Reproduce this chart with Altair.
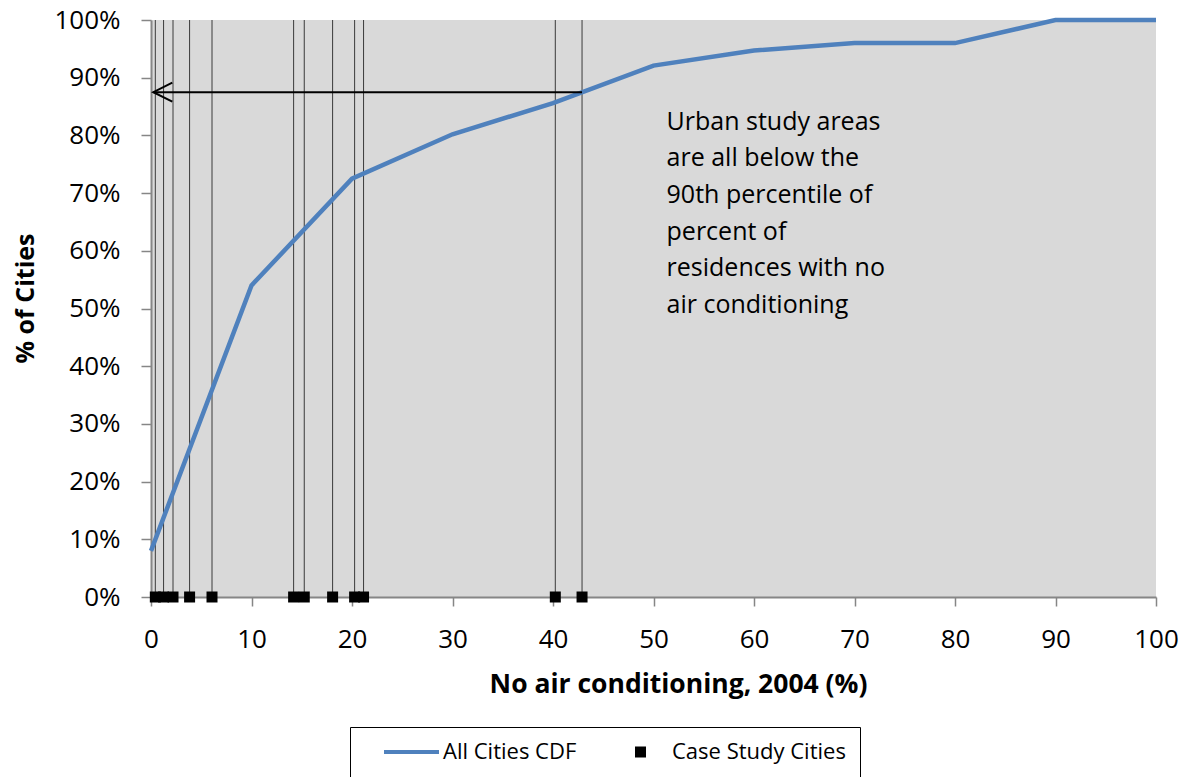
import altair as alt
import pandas as pd

# Cumulative distribution of residences without air conditioning, all cities
cdf_x = [0, 10, 20, 30, 40, 50, 60, 70, 80, 90, 100]
cdf_pct = [8.0, 54.0, 72.5, 80.2, 85.6, 92.1, 94.7, 96.0, 96.0, 100.0, 100.0]

# Case study cities (percent of residences with no air conditioning, 2004)
case_x = [0.43, 1.25, 2.19, 3.84, 6.07, 14.19, 15.25, 18.07, 20.26, 21.15, 40.23, 42.89]

# Arrow from the highest case study city back to the y axis
arrow_from = 42.89
arrow_to = 0.23
arrow_pct = 87.5

note_lines = [
    "Urban study areas",
    "are all below the",
    "90th percentile of",
    "percent of",
    "residences with no",
    "air conditioning",
]
note_x = 51.3
note_pct = 81.0

series = ["All Cities CDF", "Case Study Cities"]
x_ticks = list(range(0, 101, 10))
y_ticks = list(range(0, 101, 10))

FONT = "Open Sans"
BLUE = "#4f81bd"

cdf_df = pd.DataFrame({"x": cdf_x, "pct": cdf_pct})
case_df = pd.DataFrame({
    "x": case_x,
    "pct": [0] * len(case_x),
    "top": [100] * len(case_x),
    "series": [series[1]] * len(case_x),
})
arrow_df = pd.DataFrame({"x": [arrow_from], "x2": [arrow_to], "pct": [arrow_pct]})
head_df = pd.DataFrame({"x": [arrow_to], "pct": [arrow_pct]})
note_df = pd.DataFrame({"x": [note_x], "pct": [note_pct], "text": [note_lines]})

xs = alt.Scale(domain=[0, 100], nice=False, zero=False)
ys = alt.Scale(domain=[0, 100], nice=False, zero=False)

x_axis = alt.Axis(
    values=x_ticks, title="No air conditioning, 2004 (%)",
    labelFontSize=26, labelPadding=20, tickSize=9, labelFlush=False,
    titleFontSize=26.5, titleFontWeight="bold",
    titleX=527, titleY=95, titleAlign="center", titleBaseline="alphabetic",
)
y_axis = alt.Axis(
    values=y_ticks, title="% of Cities", labelExpr="datum.value + '%'",
    labelFontSize=26, labelPadding=21, tickSize=10, labelBaseline="middle",
    labelFlush=False,
    titleFontSize=25, titleFontWeight="bold",
    titleX=-118, titleY=278, titleAlign="center", titleBaseline="alphabetic",
)

X = alt.X("x:Q", scale=xs, axis=x_axis)
Y = alt.Y("pct:Q", scale=ys, axis=y_axis)

legend = alt.Legend(
    title=None, orient="none", legendX=199, legendY=707,
    direction="horizontal", columns=2, columnPadding=16,
    strokeColor="black", fillColor="white", padding=14,
    labelFont=FONT, labelFontSize=22, labelColor="black", labelLimit=400,
    symbolOffset=20, labelOffset=4, clipHeight=22,
    symbolStrokeWidth=0, symbolOpacity=1,
)

city_rules = alt.Chart(case_df).mark_rule(color="#3a3a3a", strokeWidth=1).encode(
    x=X, y=Y, y2="top:Q"
)

cdf_line = alt.Chart(cdf_df).mark_line(color=BLUE, strokeWidth=4.5).encode(x=X, y=Y)

arrow_shaft = alt.Chart(arrow_df).mark_rule(color="black", strokeWidth=2).encode(
    x=X, x2="x2:Q", y=Y
)
arrow_head = alt.Chart(head_df).mark_point(
    shape="M2,-1L0,0L2,1", size=361, filled=False, color="black",
    strokeWidth=2, opacity=1,
).encode(x=X, y=Y)

city_points = alt.Chart(case_df).mark_point(filled=True, opacity=1).encode(
    x=X, y=Y,
    color=alt.Color("series:N", scale=alt.Scale(domain=series, range=[BLUE, "black"]), legend=legend),
    shape=alt.Shape("series:N", scale=alt.Scale(domain=series, range=["M-1,-0.075H1V0.075H-1Z", "square"]), legend=legend),
    size=alt.Size("series:N", scale=alt.Scale(type="ordinal", domain=series, range=[3025, 121]), legend=legend),
)

note = alt.Chart(note_df).mark_text(
    align="left", baseline="alphabetic", font=FONT, fontSize=25,
    lineHeight=36.7, color="black",
).encode(x=X, y=Y, text="text")

chart = (
    alt.layer(city_rules, cdf_line, arrow_shaft, arrow_head, city_points, note)
    .properties(
        width=1005, height=577,
        padding={"left": 151, "top": 20, "right": 32, "bottom": 180},
        autosize=alt.AutoSizeParams(type="none"),
        background="white",
    )
    .configure_view(fill="#d9d9d9", stroke=None)
    .configure_axis(
        grid=False, domainColor="#868686", domainWidth=2,
        tickColor="#868686", tickWidth=1.5,
        labelFont=FONT, titleFont=FONT, labelColor="black", titleColor="black",
    )
)

chart.save("out.html", embed_options={"renderer": "svg", "actions": False})
